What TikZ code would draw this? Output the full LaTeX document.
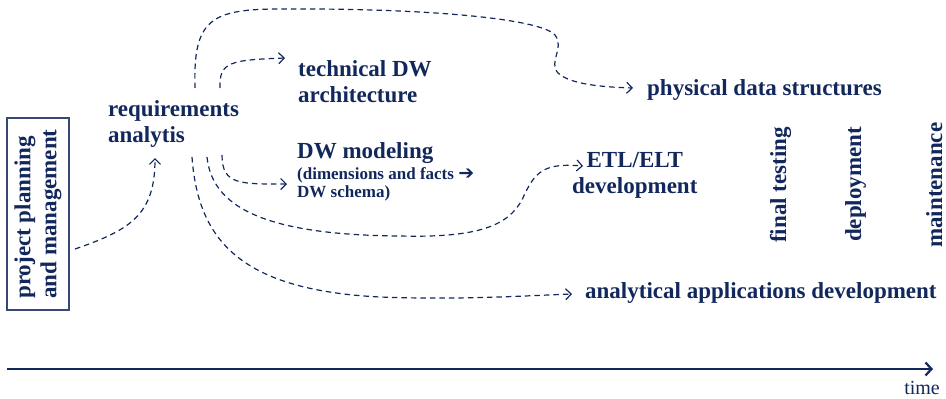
\documentclass[tikz,border=0pt]{standalone}
\usepackage{fontspec}
\setmainfont{Liberation Serif}
\newfontfamily\symfont{DejaVu Sans}
\usetikzlibrary{arrows.meta}
\definecolor{navy}{RGB}{18,40,92}
\tikzset{
  lbl/.style={inner sep=0pt, text=navy, font=\bfseries\fontsize{23}{26}\selectfont, align=left},
  small/.style={inner sep=0pt, text=navy, font=\bfseries\fontsize{17}{18}\selectfont, align=left},
  flow/.style={draw=navy, line width=1.2pt, dash pattern=on 5.5pt off 4pt,
    -{Straight Barb[length=5.5pt,width=11pt,line width=1.2pt]}},
  axis/.style={draw=navy, line width=2.4pt, -{Straight Barb[length=6pt,width=13pt,line width=2.2pt]}},
  pbox/.style={draw=navy!85, line width=1.2pt, rotate=90, minimum width=192pt, minimum height=62pt,
    inner sep=0pt, text=navy, font=\bfseries\fontsize{23}{26}\selectfont, align=left}
}
\begin{document}
\begin{tikzpicture}[x=1pt,y=-1pt]
\useasboundingbox (0,0) rectangle (946,399);
% nodes
\node[pbox] (proj) at (38,214) {project planning\\and management};
\node[lbl, anchor=base west] (reqs) at (108,142) {requirements\\analytis};
\node[lbl, anchor=base west] (tech) at (298,102) {technical DW\\architecture};
\node[lbl, anchor=base west] (phys) at (647,95) {physical data structures};
\node[lbl, anchor=base west] (dwm) at (297,158) {DW modeling};
\node[small, anchor=base west] (dwmsub) at (297,197) {(dimensions and facts {\symfont\bfseries\fontsize{19}{18}\selectfont ➔}\\DW schema)};
\node[lbl, anchor=base west, align=center] (etl) at (572,193) {ETL/ELT\\development};
\node[lbl, anchor=base west] (ana) at (585,298) {analytical applications development};
\node[lbl, rotate=90, anchor=base west] (test) at (786,243) {final testing};
\node[lbl, rotate=90, anchor=base west] (depl) at (861,242) {deployment};
\node[lbl, rotate=90, anchor=base west] (maint) at (942,248) {maintenance};
\node[inner sep=0pt, text=navy, font=\fontsize{20}{22}\selectfont, anchor=base east] (time) at (940,394) {time};
% connector ends
\coordinate (pstart) at (75,249);
\coordinate (pend) at (155,158);
\coordinate (s1) at (195,88);
\coordinate (s2) at (220,88);
\coordinate (s3) at (222,155);
\coordinate (s4) at (207,157);
\coordinate (s5) at (192,157);
\coordinate (ephys) at (633,88);
\coordinate (etech) at (285,58);
\coordinate (edwm) at (287,184);
\coordinate (eetl) at (583,166);
\coordinate (eana) at (572,294);
\coordinate (t0) at (7,369);
\coordinate (t1) at (933,369);
% connectors
\draw[flow] (pstart) .. controls (130,230) and (155,215) .. (pend);
\draw[flow] (s1) .. controls (193,20) and (210,9) .. (280,9)
  .. controls (420,8) and (540,18) .. (555,35)
  .. controls (565,48) and (548,62) .. (558,73)
  .. controls (570,84) and (600,87) .. (ephys);
\draw[flow] (s2) .. controls (219,62) and (230,60) .. (etech);
\draw[flow] (s3) .. controls (222,185) and (240,184) .. (edwm);
\draw[flow] (s4) .. controls (212,205) and (260,235) .. (400,236)
  .. controls (480,238) and (508,225) .. (522,200)
  .. controls (535,170) and (545,163) .. (eetl);
\draw[flow] (s5) .. controls (198,240) and (240,290) .. (380,297)
  .. controls (460,300) and (520,296) .. (eana);
\draw[axis] (t0) -- (t1);
\end{tikzpicture}
\end{document}
